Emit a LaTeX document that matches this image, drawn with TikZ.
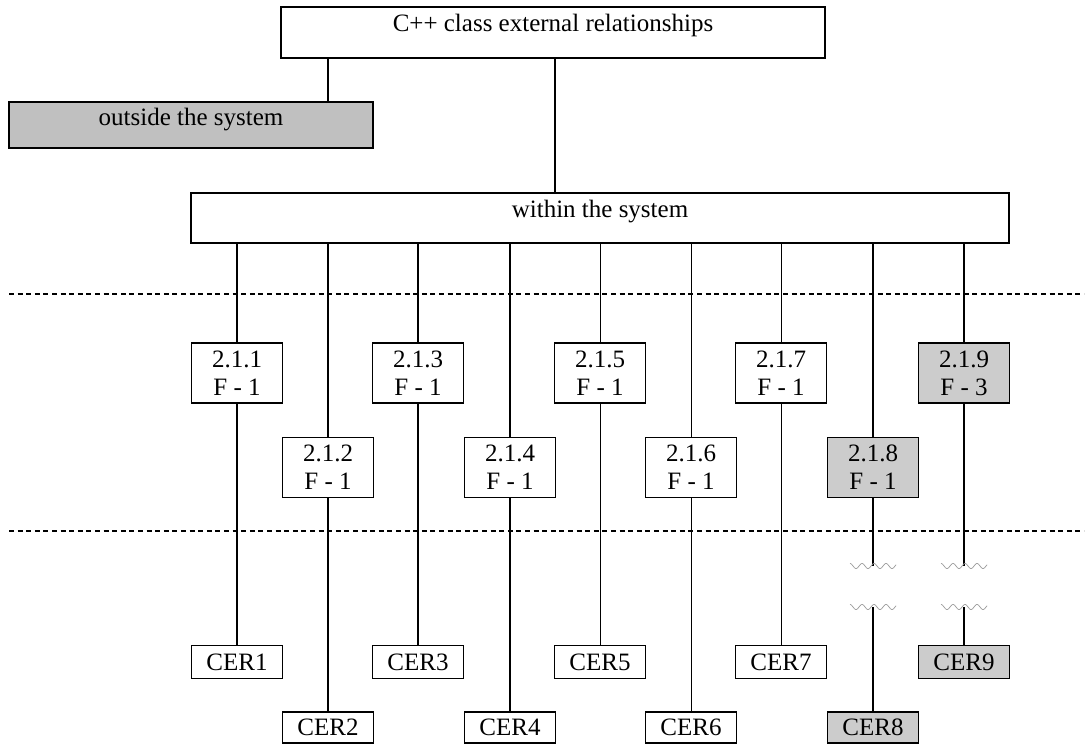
\documentclass[tikz,border=0pt]{standalone}
\usepackage{fontspec}
\setmainfont{Liberation Serif}
\definecolor{shadeA}{RGB}{192,192,192}
\definecolor{shadeB}{RGB}{204,204,204}
\begin{document}
\begin{tikzpicture}[x=1pt,y=-1pt,
  every node/.style={font=\fontsize{25}{28}\selectfont},
  box/.style={draw,line width=1.6pt,inner sep=0pt},
  fbox/.style={box,align=center,minimum width=91pt,minimum height=60pt},
  cbox/.style={box,minimum width=91pt,minimum height=33pt},
  shaded/.style={fill=shadeB},
  thickline/.style={line width=1.7pt},
  thinline/.style={line width=0.9pt},
  divider/.style={line width=1.6pt,dash pattern=on 5pt off 3.6pt},
  wave/.style={draw=black!40,line width=0.7pt}]
\useasboundingbox (0,0) rectangle (1091,746);

% top of the hierarchy
\node[box,minimum width=544pt,minimum height=51pt,text height=6pt,text depth=7pt] (top) at (553,32.5) {C++ class external relationships};
\node[box,fill=shadeA,minimum width=364pt,minimum height=46pt,text height=8pt,text depth=6pt] (outside) at (191,125) {outside the system};
\node[box,minimum width=818pt,minimum height=50pt,text height=6pt,text depth=8pt] (within) at (600,218) {within the system};

\coordinate (tapO) at (328,0);
\coordinate (tapW) at (555,0);
\draw[thickline] (top.south -| tapO) -- (outside.north -| tapO);
\draw[thickline] (top.south -| tapW) -- (within.north -| tapW);

% dividers
\coordinate (d1l) at (9,294);   \coordinate (d1r) at (1084,294);
\coordinate (d2l) at (9,531);   \coordinate (d2r) at (1084,531);
\draw[divider] (d1l) -- (d1r);
\draw[divider] (d2l) -- (d2r);

% function boxes
\node[fbox] (f1) at (237,373) {2.1.1\\F - 1};
\node[fbox] (f3) at (418,373) {2.1.3\\F - 1};
\node[fbox] (f5) at (600,373) {2.1.5\\F - 1};
\node[fbox] (f7) at (781,373) {2.1.7\\F - 1};
\node[fbox,shaded] (f9) at (964,373) {2.1.9\\F - 3};
\node[fbox] (f2) at (328,467.5) {2.1.2\\F - 1};
\node[fbox] (f4) at (510,467.5) {2.1.4\\F - 1};
\node[fbox] (f6) at (691,467.5) {2.1.6\\F - 1};
\node[fbox,shaded] (f8) at (873,467.5) {2.1.8\\F - 1};

% result boxes
\node[cbox] (c1) at (237,662) {CER1};
\node[cbox] (c3) at (418,662) {CER3};
\node[cbox] (c5) at (600,662) {CER5};
\node[cbox] (c7) at (781,662) {CER7};
\node[cbox,shaded] (c9) at (964,662) {CER9};
\node[cbox,minimum height=31pt] (c2) at (328,727.5) {CER2};
\node[cbox,minimum height=31pt] (c4) at (510,727.5) {CER4};
\node[cbox,minimum height=31pt] (c6) at (691,727.5) {CER6};
\node[cbox,shaded,minimum height=31pt] (c8) at (873,727.5) {CER8};

% branches
\foreach \f/\c in {f1/c1,f2/c2,f3/c3,f4/c4}{
  \draw[thickline] (within.south -| \f.north) -- (\f.north);
  \draw[thickline] (\f.south) -- (\c.north);
}
\foreach \f/\c in {f5/c5,f6/c6,f7/c7}{
  \draw[thinline] (within.south -| \f.north) -- (\f.north);
  \draw[thinline] (\f.south) -- (\c.north);
}

% interrupted branches
\coordinate (b8a) at (873,566); \coordinate (b8b) at (873,607);
\coordinate (b9a) at (964,566); \coordinate (b9b) at (964,607);
\foreach \f/\c/\a/\b in {f8/c8/b8a/b8b,f9/c9/b9a/b9b}{
  \draw[thickline] (within.south -| \f.north) -- (\f.north);
  \draw[thickline] (\f.south) -- (\a);
  \draw[thickline] (\b) -- (\c.north);
  \foreach \p in {\a,\b}{
    \draw[wave,shift={(\p)}] plot[domain=-23:23,samples=90] (\x,{-2.5*cos(30*(\x+23))});
  }
}
\end{tikzpicture}
\end{document}
